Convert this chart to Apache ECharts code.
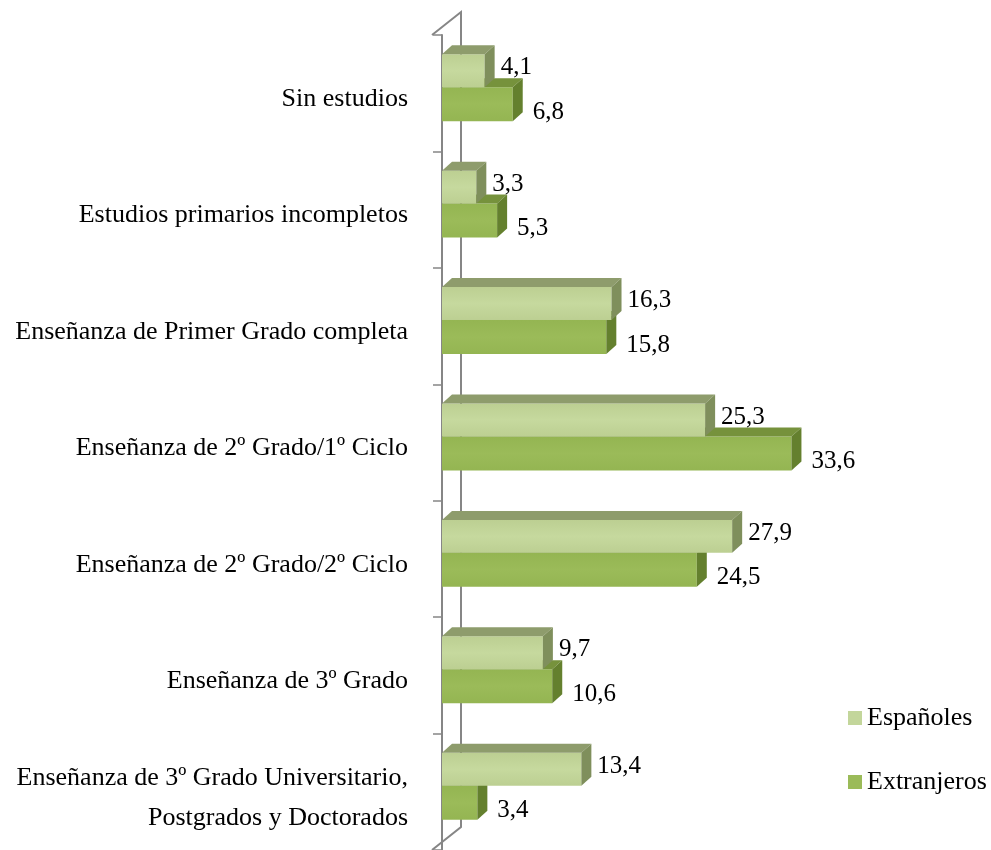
<!DOCTYPE html>
<html>
<head>
<meta charset="utf-8">
<script src="https://cdn.jsdelivr.net/npm/echarts@6/dist/echarts.min.js"></script>
<style>
  html, body { margin: 0; padding: 0; background: #fff; }
  #chart { width: 991px; height: 850px; }
</style>
</head>
<body>
<div id="chart"></div>
<script>
// datos
const categories = [
  'Sin estudios',
  'Estudios primarios incompletos',
  'Enseñanza de Primer Grado completa',
  'Enseñanza de 2º Grado/1º Ciclo',
  'Enseñanza de 2º Grado/2º Ciclo',
  'Enseñanza de 3º Grado',
  'Enseñanza de 3º Grado Universitario,\nPostgrados y Doctorados'
];
const espanoles = [4.1, 3.3, 16.3, 25.3, 27.9, 9.7, 13.4];
const extranjeros = [6.8, 5.3, 15.8, 33.6, 24.5, 10.6, 3.4];
const seriesNames = ['Españoles', 'Extranjeros'];

const FONT = '"Liberation Serif", "Times New Roman", serif';
const GRID_LEFT = 442;
const GRID_TOP = 35;
const DX = 10, DY = -9;       // profundidad de la barra 3D
const WDX = 29, WDY = -23;    // profundidad de la pared

const fmt = v => v.toFixed(1).replace('.', ',');

// barra 3D: cara frontal, superior y lateral
function bar3d(slot, colors) {
  return function (params, api) {
    const idx = api.value(1);
    const v = api.value(0);
    const p0 = api.coord([0, idx]);
    const p1 = api.coord([v, idx]);
    const band = api.size([0, 1])[1];
    const c = p0[1];
    const x0 = p0[0], x1 = p1[0];
    const yt = slot === 0 ? c - 0.335 * band : c - 0.052 * band;
    const yb = slot === 0 ? c - 0.052 * band : c + 0.24 * band;
    return {
      type: 'group',
      children: [
        {
          type: 'rect',
          shape: { x: x0, y: yt, width: x1 - x0, height: yb - yt },
          style: {
            fill: new echarts.graphic.LinearGradient(0, 0, 0, 1, [
              { offset: 0, color: colors.frontTop },
              { offset: 0.5, color: colors.front },
              { offset: 1, color: colors.frontTop }
            ])
          }
        },
        {
          type: 'polygon',
          shape: { points: [[x0, yt], [x1, yt], [x1 + DX, yt + DY], [x0 + DX, yt + DY]] },
          style: { fill: colors.top }
        },
        {
          type: 'polygon',
          shape: { points: [[x1, yt], [x1 + DX, yt + DY], [x1 + DX, yb + DY], [x1, yb]] },
          style: { fill: colors.side }
        },
        {
          type: 'text',
          style: {
            text: fmt(v),
            x: x1 + DX + (slot === 0 ? 6 : 10),
            y: (yt + yb) / 2 + (slot === 0 ? -3 : 8),
            fontSize: 25,
            fontFamily: FONT,
            fill: '#000',
            align: 'left',
            verticalAlign: 'middle'
          }
        }
      ]
    };
  };
}

const chart = echarts.init(document.getElementById('chart'));

chart.setOption({
  animation: false,
  backgroundColor: '#fff',
  grid: { left: GRID_LEFT, top: GRID_TOP, width: 416, bottom: 0 },
  legend: {
    data: seriesNames,
    orient: 'vertical',
    left: 843,
    top: 700,
    itemWidth: 14,
    itemHeight: 14,
    itemGap: 38,
    icon: 'rect',
    textStyle: { fontFamily: FONT, fontSize: 26, color: '#000', padding: [2, 0, 0, 0] }
  },
  xAxis: { type: 'value', min: 0, max: 40, show: false },
  yAxis: {
    type: 'category',
    data: categories,
    inverse: true,
    offset: 10,
    axisLine: { show: true, lineStyle: { color: '#868686', width: 2 } },
    axisTick: { show: true, length: 9, lineStyle: { color: '#868686', width: 1.5 } },
    axisLabel: {
      margin: 24,
      color: '#000',
      align: 'right',
      formatter: v => v.split('\n').map(s => '{a|' + s + '}').join('\n'),
      rich: {
        a: {
          fontFamily: FONT,
          fontSize: 26,
          color: '#000',
          lineHeight: 40,
          align: 'right',
          padding: [12, 0, 0, 0]
        }
      }
    },
    splitLine: { show: false }
  },
  graphic: [
    // pared lateral (decoración)
    {
      type: 'polyline',
      shape: { points: [
        [GRID_LEFT - 10, GRID_TOP],
        [GRID_LEFT - 10 + WDX, GRID_TOP + WDY],
        [GRID_LEFT - 10 + WDX, 850 + WDY],
        [GRID_LEFT - 10, 850]
      ] },
      style: { stroke: '#868686', lineWidth: 2, fill: null },
      z: 0
    }
  ],
  series: [
    {
      name: seriesNames[1],
      type: 'custom',
      itemStyle: { color: '#9bbb59' },
      renderItem: bar3d(1, { front: '#9bbb59', frontTop: '#94b552', top: '#76923c', side: '#64802e' }),
      encode: { x: 0, y: 1 },
      data: extranjeros.map((v, i) => [v, i]),
      clip: false,
      z: 2
    },
    {
      name: seriesNames[0],
      type: 'custom',
      itemStyle: { color: '#c3d69b' },
      renderItem: bar3d(0, { front: '#c6d99e', frontTop: '#bccf92', top: '#8e9c6c', side: '#7f8f5c' }),
      encode: { x: 0, y: 1 },
      data: espanoles.map((v, i) => [v, i]),
      clip: false,
      z: 3
    }
  ]
});
</script>
</body>
</html>
